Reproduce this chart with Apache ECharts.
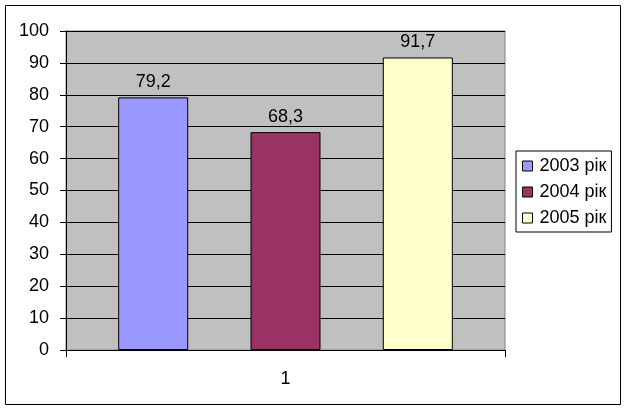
<!DOCTYPE html>
<html>
<head>
<meta charset="utf-8">
<script src="https://cdn.jsdelivr.net/npm/echarts@6/dist/echarts.min.js"></script>
<style>
  html, body { margin: 0; padding: 0; background: #fff; }
</style>
</head>
<body>
<div id="chart_main" style="width:627px; height:410px;"></div>
<script>
  // data
  let categories = ['1']
  let seriesNames = ['2003 рік', '2004 рік', '2005 рік']
  let values2003 = [79.2]
  let values2004 = [68.3]
  let values2005 = [91.7]
  let seriesColors = ['#9999FF', '#993366', '#FFFFCC']

  let chart = echarts.init(document.getElementById('chart_main'))
  let font = 'Arial, "Liberation Sans", sans-serif'

  function makeSeries (name, data, color) {
    return {
      name: name,
      type: 'bar',
      data: data,
      barWidth: 70,
      barGap: '89%',
      itemStyle: {
        color: color,
        borderColor: '#000',
        borderWidth: 1
      },
      label: {
        show: true,
        position: 'top',
        distance: 6,
        color: '#000',
        fontFamily: font,
        fontSize: 18,
        formatter: (p) => String(p.value).replace('.', ',')
      }
    }
  }

  let options = {
    backgroundColor: '#fff',
    animation: false,
    graphic: [{
      type: 'rect',
      shape: { x: 5.5, y: 5.5, width: 615, height: 399 },
      style: { fill: 'none', stroke: '#000', lineWidth: 1 },
      z: 100
    }],
    grid: {
      left: 66,
      right: 122,
      top: 31,
      bottom: 60,
      show: true,
      backgroundColor: '#C0C0C0',
      borderColor: '#808080',
      borderWidth: 1
    },
    legend: {
      data: seriesNames,
      orient: 'vertical',
      left: 516,
      top: 151,
      padding: [6, 5, 5, 6],
      itemGap: 8,
      itemWidth: 10,
      itemHeight: 10,
      icon: 'rect',
      borderColor: '#000',
      borderWidth: 1,
      itemStyle: { borderColor: '#000', borderWidth: 1 },
      textStyle: { color: '#000', fontFamily: font, fontSize: 18, padding: [0, 0, 0, 2] }
    },
    xAxis: {
      type: 'category',
      data: categories,
      axisLine: { lineStyle: { color: '#000', width: 1 } },
      axisTick: { show: true, length: 7, lineStyle: { color: '#000' } },
      axisLabel: { color: '#000', fontFamily: font, fontSize: 18, margin: 20 }
    },
    yAxis: {
      type: 'value',
      min: 0,
      max: 100,
      interval: 10,
      axisLine: { show: true, lineStyle: { color: '#000', width: 1 } },
      axisTick: { show: true, length: 6, lineStyle: { color: '#000' } },
      axisLabel: { color: '#000', fontFamily: font, fontSize: 18, margin: 17 },
      splitLine: { show: true, lineStyle: { color: '#000', width: 1 } }
    },
    series: [
      makeSeries(seriesNames[0], values2003, seriesColors[0]),
      makeSeries(seriesNames[1], values2004, seriesColors[1]),
      makeSeries(seriesNames[2], values2005, seriesColors[2])
    ]
  }
  chart.setOption(options)
</script>
</body>
</html>
